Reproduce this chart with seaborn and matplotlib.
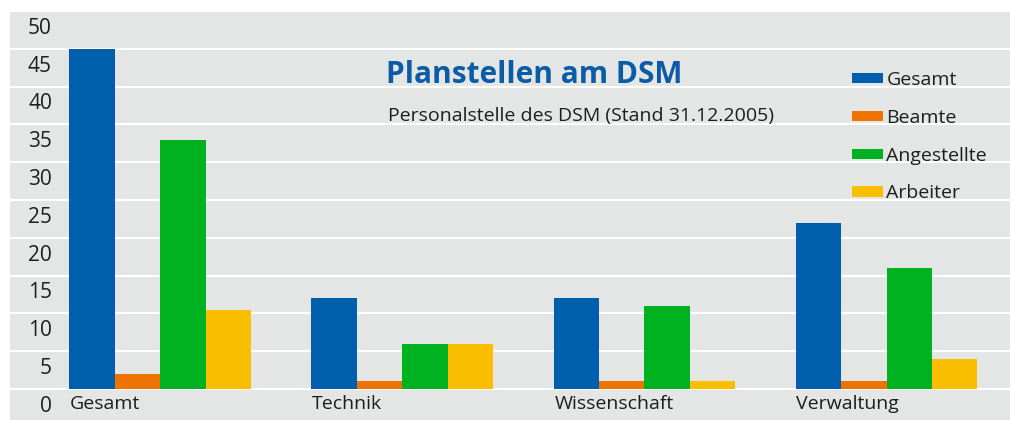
import numpy as np
import pandas as pd
import seaborn as sns
import matplotlib.pyplot as plt
from matplotlib.transforms import ScaledTranslation

# Daten
bereiche = ["Gesamt", "Technik", "Wissenschaft", "Verwaltung"]
gruppen = ["Gesamt", "Beamte", "Angestellte", "Arbeiter"]
gesamt = [45, 12, 12, 22]
beamte = [2, 1, 1, 1]
angestellte = [33, 6, 11, 16]
arbeiter = [10.5, 6, 1, 4]
y_ticks = list(range(0, 55, 5))

farben = ["#005fad", "#ef7300", "#00b21f", "#f9be00"]
grau = "#e4e5e5"
text_farbe = "#1e1e1e"

df = pd.DataFrame({
    "Bereich": bereiche * 4,
    "Gruppe": np.repeat(gruppen, len(bereiche)),
    "Stellen": gesamt + beamte + angestellte + arbeiter,
})

sns.set_theme(style="white")
plt.rcParams["font.family"] = ["Open Sans", "DejaVu Sans"]

W, H, DPI = 1013, 421, 100
fig = plt.figure(figsize=(W / DPI, H / DPI), dpi=DPI)
fig.patch.set_facecolor("white")
ax = fig.add_axes([10 / W, 1 / H, 1000 / W, 409 / H])
ax.set_facecolor(grau)

sns.barplot(data=df, x="Bereich", y="Stellen", hue="Gruppe", order=bereiche,
            hue_order=gruppen, palette=farben, saturation=1, width=0.75,
            edgecolor="none", linewidth=0, ax=ax)

ax.set_ylim(-4.1, 50)
ax.set_xlim(-0.62, 3.51)
ax.set_xlabel("")
ax.set_ylabel("")
for s in ax.spines.values():
    s.set_visible(False)

# Gitterlinien, Beschriftung jeweils unter der Linie
ax.set_yticks(y_ticks, [str(v) for v in y_ticks])
ax.yaxis.grid(True, color="white", linewidth=1.5)
ax.set_axisbelow(True)
ax.tick_params(axis="y", length=0, pad=-30.2, labelsize=15, labelcolor=text_farbe)
off = ScaledTranslation(0, -14.7 / DPI, fig.dpi_scale_trans)
for lbl in ax.get_yticklabels():
    lbl.set_transform(lbl.get_transform() + off)

# Kategorien links unter den Gruppen
ax.set_xticks(np.arange(len(bereiche)) - 0.372, bereiche)
ax.tick_params(axis="x", length=0, pad=-11.5, labelsize=14, labelcolor=text_farbe)
for lbl in ax.get_xticklabels():
    lbl.set_ha("left")
    lbl.set_va("center")

# Legende
handles, labels = ax.get_legend_handles_labels()
ax.legend(handles, labels, loc="upper left", bbox_to_anchor=(851.5 / W, 1 - 71 / H),
          bbox_transform=fig.transFigure, frameon=False, fontsize=14,
          handlelength=1.63, handleheight=0.43, handletextpad=0.17,
          labelspacing=1.02, borderpad=0, borderaxespad=0, labelcolor=text_farbe)

fig.text(386.5 / W, 1 - 83.3 / H, "Planstellen am DSM", fontsize=21.5, fontweight="bold",
         color="#0a5ca6", va="baseline", ha="left")
fig.text(388 / W, 1 - 120.7 / H, "Personalstelle des DSM (Stand 31.12.2005)",
         fontsize=14, color=text_farbe, va="baseline", ha="left")

fig.savefig("out.png", dpi=DPI)
